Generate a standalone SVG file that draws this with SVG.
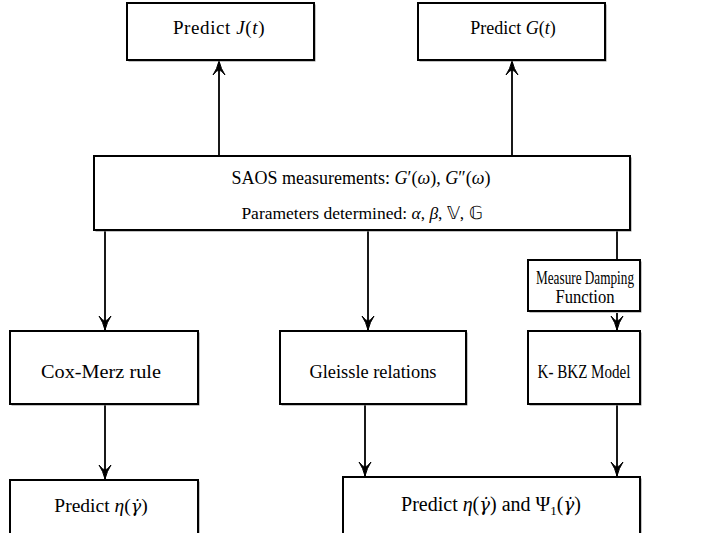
<svg xmlns="http://www.w3.org/2000/svg" width="706" height="533" viewBox="0 0 706 533">
<defs>
<marker id="arr" viewBox="-16 -7 17 14" refX="0" refY="0" markerWidth="17" markerHeight="14" markerUnits="userSpaceOnUse" orient="auto">
<path d="M0,0 Q-8,-2 -14,-6 Q-9,-2 -9,0 Q-9,2 -14,6 Q-8,2 0,0 Z" fill="#000" stroke="#000" stroke-width="1"/>
</marker>
</defs>
<style>
.box{fill:#fff;stroke:#000;stroke-width:2}
.sh{fill:#888}
.t{font-family:"Liberation Serif","Times New Roman",serif;font-size:18px;fill:#000;text-anchor:middle}
.m{font-style:italic}
.d{font-family:"DejaVu Serif",serif;font-style:italic;font-size:0.9em}
.c{stroke:#000;stroke-width:1.8;fill:none;marker-end:url(#arr)}
.l{stroke:#000;stroke-width:1.8;fill:none}
</style>
<rect width="706" height="533" fill="#fff"/>
<g id="connectors">
<line class="c" x1="219" y1="156" x2="219" y2="61"/>
<line class="c" x1="512" y1="156" x2="512" y2="61"/>
<line class="c" x1="105" y1="231" x2="105" y2="330"/>
<line class="c" x1="368" y1="231" x2="368" y2="330"/>
<line class="l" x1="617" y1="231" x2="617" y2="260"/>
<line class="c" x1="617" y1="313" x2="617" y2="330"/>
<line class="c" x1="105" y1="405" x2="105" y2="479"/>
<line class="c" x1="365" y1="405" x2="365" y2="476"/>
<line class="c" x1="617" y1="405" x2="617" y2="476"/>
</g>
<g id="predictJ">
<rect class="sh" x="128.5" y="4.5" width="187" height="57"/>
<rect class="box" x="127" y="3" width="187" height="57"/>
<text class="t" x="219" y="34" style="font-size:19px;letter-spacing:0.6px">Predict <tspan class="m">J</tspan>(<tspan class="m">t</tspan>)</text>
</g>
<g id="predictG">
<rect class="sh" x="419.5" y="4.5" width="187" height="57"/>
<rect class="box" x="418" y="3" width="187" height="57"/>
<text class="t" x="513" y="34">Predict <tspan class="m">G</tspan>(<tspan class="m">t</tspan>)</text>
</g>
<g id="saos">
<rect class="sh" x="95.5" y="157.5" width="536" height="74"/>
<rect class="box" x="94" y="156" width="536" height="74"/>
<text class="t" x="361" y="184">SAOS measurements: <tspan class="m">G</tspan>′(<tspan class="m">ω</tspan>), <tspan class="m">G</tspan>″(<tspan class="m">ω</tspan>)</text>
<text class="t" x="362" y="219" style="font-size:17.5px">Parameters determined: <tspan class="m">α</tspan>, <tspan class="m">β</tspan>, 𝕍, 𝔾</text>
</g>
<g id="damping">
<rect class="sh" x="529.5" y="261.5" width="112" height="51"/>
<rect class="box" x="528" y="260" width="112" height="51"/>
<text class="t" x="585" y="284" textLength="98" lengthAdjust="spacingAndGlyphs">Measure Damping</text>
<text class="t" x="585" y="303" textLength="59" lengthAdjust="spacingAndGlyphs">Function</text>
</g>
<g id="coxmerz">
<rect class="sh" x="11.5" y="332.5" width="188" height="73"/>
<rect class="box" x="10" y="331" width="188" height="73"/>
<text class="t" x="101" y="378" textLength="120" lengthAdjust="spacingAndGlyphs">Cox-Merz rule</text>
</g>
<g id="gleissle">
<rect class="sh" x="281.5" y="332.5" width="186" height="73"/>
<rect class="box" x="280" y="331" width="186" height="73"/>
<text class="t" x="373" y="378" textLength="127" lengthAdjust="spacingAndGlyphs">Gleissle relations</text>
</g>
<g id="kbkz">
<rect class="sh" x="529.5" y="332.5" width="112" height="73"/>
<rect class="box" x="528" y="331" width="112" height="73"/>
<text class="t" x="584" y="378" textLength="93" lengthAdjust="spacingAndGlyphs">K- BKZ Model</text>
</g>
<g id="predictEta">
<rect class="sh" x="11.5" y="481.5" width="188" height="60"/>
<rect class="box" x="10" y="480" width="188" height="60"/>
<text class="t" x="101" y="512" style="font-size:19.5px">Predict <tspan class="m">η</tspan>(<tspan class="d">γ̇</tspan>)</text>
</g>
<g id="predictEtaPsi">
<rect class="sh" x="344.5" y="478.5" width="297" height="60"/>
<rect class="box" x="343" y="477" width="297" height="60"/>
<text class="t" x="491" y="511" style="font-size:20px">Predict <tspan class="m">η</tspan>(<tspan class="d">γ̇</tspan>) and Ψ<tspan style="font-size:13px" dy="4">1</tspan><tspan dy="-4">(</tspan><tspan class="d">γ̇</tspan>)</text>
</g>
</svg>
